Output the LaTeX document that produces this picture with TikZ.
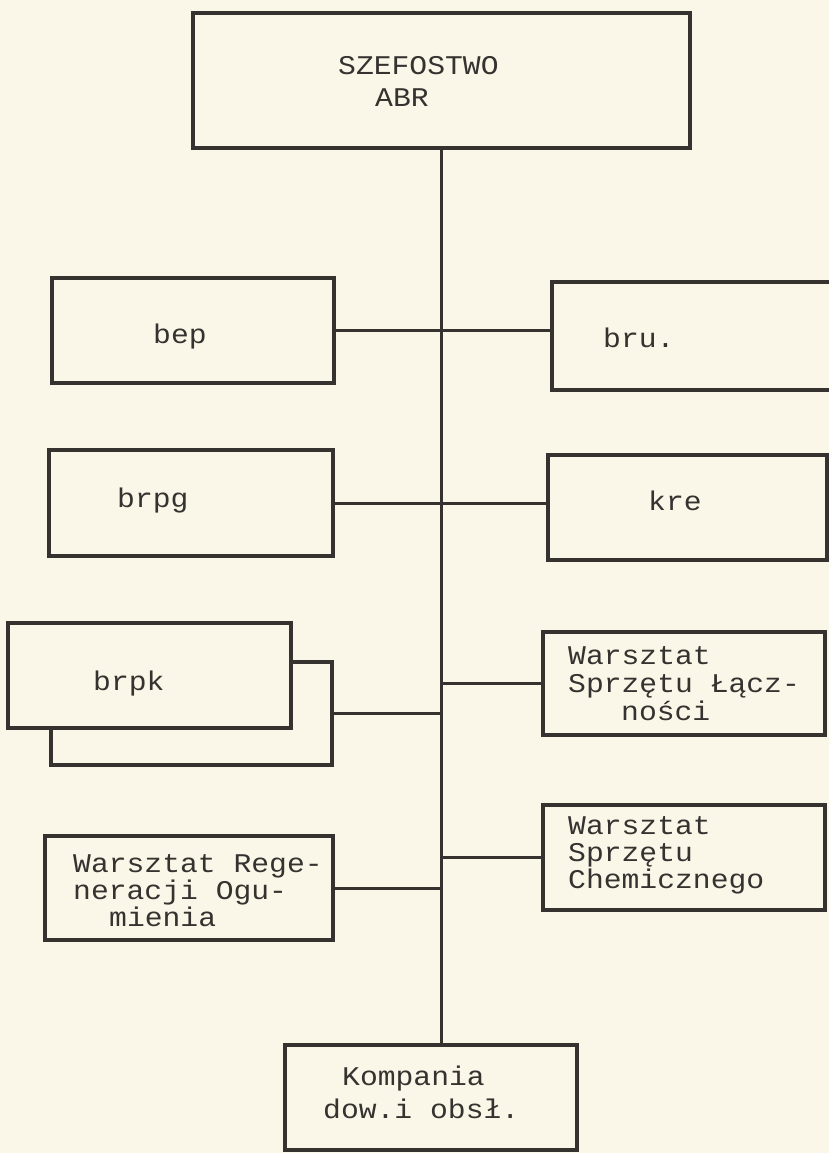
\documentclass[tikz,border=0pt]{standalone}
\usepackage{fontspec}
\setmonofont[FakeStretch=1.1]{Liberation Mono}
\definecolor{paper}{HTML}{FAF7E8}
\definecolor{ink}{HTML}{353230}
\begin{document}
\begin{tikzpicture}[x=1pt,y=-1pt,
  box/.style={draw=ink, line width=4.5pt, fill=paper, inner sep=0pt, rectangle},
  link/.style={draw=ink, line width=3pt},
  lbl/.style={anchor=base west, inner sep=0pt, font=\ttfamily\fontsize{27}{27}\selectfont, text=ink}]
\useasboundingbox (0,0) rectangle (829,1153);
\fill[paper] (0,0) rectangle (829,1153);
\clip (0,0) rectangle (829,1153);

% boxes
\node[box, minimum width=497pt, minimum height=135pt] (top) at (441.5,80.5) {};
\node[box, minimum width=282pt, minimum height=105pt] (bep) at (193,330.5) {};
\node[box, minimum width=308pt, minimum height=108pt] (bru) at (706,336) {};
\node[box, minimum width=284pt, minimum height=106pt] (brpg) at (191,503) {};
\node[box, minimum width=279pt, minimum height=105pt] (kre) at (687.5,507.5) {};
\node[box, minimum width=281pt, minimum height=103pt] (brpkb) at (191.5,713.5) {};
\node[box, minimum width=283pt, minimum height=105pt] (brpk) at (149.5,675.5) {};
\node[box, minimum width=282pt, minimum height=103pt] (wsl) at (684,683.5) {};
\node[box, minimum width=288pt, minimum height=104pt] (wro) at (189,888) {};
\node[box, minimum width=282pt, minimum height=105pt] (wsc) at (684,857.5) {};
\node[box, minimum width=292pt, minimum height=105pt] (komp) at (431,1097.5) {};

% connectors
\draw[link] (top.south) -- (top.south |- komp.north);
\draw[link] (bep.east) -- (bep.east -| bru.west);
\draw[link] (brpg.east) -- (brpg.east -| kre.west);
\draw[link] (brpkb.east) -- (brpkb.east -| top.south);
\draw[link] (wsl.west) -- (wsl.west -| top.south);
\draw[link] (wro.east) -- (wro.east -| top.south);
\draw[link] (wsc.west) -- (wsc.west -| top.south);

% texts
\node[lbl] (t-top1) at (338,75) {SZEFOSTWO};
\node[lbl] (t-top2) at (375,107) {ABR};
\node[lbl] (t-bep) at (153,343) {bep};
\node[lbl] (t-bru) at (603,347) {bru.};
\node[lbl] (t-brpg) at (117,507) {brpg};
\node[lbl] (t-kre) at (648,510) {kre};
\node[lbl] (t-brpk) at (93,690) {brpk};
\node[lbl] (t-wsl1) at (568,664) {Warsztat};
\node[lbl] (t-wsl2) at (568,692) {Sprzętu Łącz-};
\node[lbl] (t-wsl3) at (621,720) {ności};
\node[lbl] (t-wro1) at (73,872) {Warsztat Rege-};
\node[lbl] (t-wro2) at (73,899) {neracji Ogu-};
\node[lbl] (t-wro3) at (109,926) {mienia};
\node[lbl] (t-wsc1) at (568,834) {Warsztat};
\node[lbl] (t-wsc2) at (568,861) {Sprzętu};
\node[lbl] (t-wsc3) at (568,888) {Chemicznego};
\node[lbl] (t-komp1) at (342,1085) {Kompania};
\node[lbl] (t-komp2) at (323,1118) {dow.i obsł.};
\end{tikzpicture}
\end{document}
